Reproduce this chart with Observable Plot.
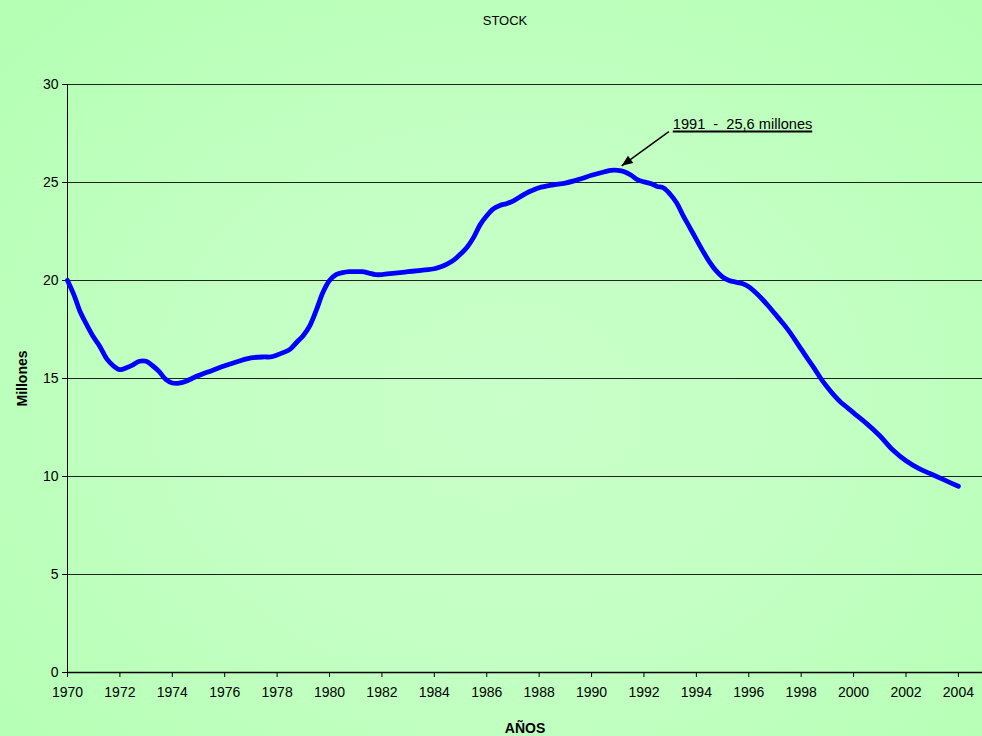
<!DOCTYPE html>
<html>
<head>
<meta charset="utf-8">
<script src="https://cdn.jsdelivr.net/npm/d3@7"></script>
<script src="https://cdn.jsdelivr.net/npm/@observablehq/plot@0.6"></script>
<style>
  html, body { margin: 0; padding: 0; }
  #chart {
    position: relative; width: 982px; height: 736px; overflow: hidden;
    background: radial-gradient(ellipse at 52% 55%, #c9ffc9 0%, #c3ffc3 45%, #b3ffb3 100%);
    font-family: "Liberation Sans", Arial, sans-serif;
  }
  #title { position: absolute; left: 0; top: 13px; width: 1010px; text-align: center; font-size: 13px; color: #000; }
  #plot { position: absolute; left: 0; top: 40px; }
  #plot svg { background: transparent; }
</style>
</head>
<body>
<div id="chart">
  <div id="title">STOCK</div>
  <div id="plot"></div>
</div>
<script>
const years = [1970.00,1970.25,1970.5,1970.75,1971.0,1971.25,1971.5,1971.75,1972.0,1972.25,1972.5,1972.75,1973.0,1973.25,1973.5,1973.75,1974.0,1974.25,1974.5,1974.75,1975.0,1975.5,1976.0,1976.5,1977.0,1977.5,1977.75,1978.0,1978.25,1978.5,1978.75,1979.0,1979.25,1979.5,1979.75,1980.0,1980.25,1980.5,1980.75,1981.0,1981.25,1981.5,1981.75,1982.0,1982.5,1983.0,1983.5,1984.0,1984.25,1984.5,1984.75,1985.0,1985.25,1985.5,1985.75,1986.0,1986.25,1986.5,1986.75,1987.0,1987.25,1987.5,1987.75,1988.0,1988.5,1989.0,1989.5,1990.0,1990.5,1990.75,1991.0,1991.25,1991.5,1991.75,1992.0,1992.25,1992.5,1992.75,1993.0,1993.25,1993.5,1993.75,1994.0,1994.25,1994.5,1994.75,1995.0,1995.25,1995.5,1995.75,1996.0,1996.25,1996.5,1996.75,1997.0,1997.25,1997.5,1997.75,1998.0,1998.25,1998.5,1998.75,1999.0,1999.25,1999.5,1999.75,2000.0,2000.5,2001.0,2001.5,2002.0,2002.5,2003.0,2003.5,2004.0];
const stock = [20.0,19.25,18.35,17.7,17.1,16.6,16.0,15.65,15.45,15.55,15.7,15.88,15.88,15.65,15.35,14.95,14.77,14.76,14.85,15.0,15.15,15.4,15.65,15.87,16.05,16.1,16.1,16.2,16.33,16.5,16.85,17.2,17.7,18.5,19.4,20.0,20.3,20.4,20.45,20.45,20.45,20.38,20.3,20.3,20.38,20.45,20.52,20.6,20.7,20.85,21.05,21.35,21.7,22.2,22.85,23.3,23.65,23.83,23.92,24.05,24.25,24.45,24.6,24.73,24.87,24.97,25.15,25.37,25.55,25.62,25.62,25.55,25.38,25.15,25.03,24.95,24.8,24.72,24.4,23.95,23.3,22.7,22.1,21.5,20.95,20.5,20.18,20.0,19.92,19.85,19.68,19.4,19.07,18.7,18.3,17.9,17.48,17.0,16.5,16.0,15.52,15.0,14.55,14.15,13.8,13.53,13.25,12.7,12.08,11.35,10.8,10.4,10.1,9.8,9.5];
const xTicks = [1970,1972,1974,1976,1978,1980,1982,1984,1986,1988,1990,1992,1994,1996,1998,2000,2002,2004];
const yTicks = [0,5,10,15,20,25,30];
const annotText = ["1991\u00a0\u00a0-\u00a0\u00a025,6 millones"];
const annotTextPos = [{x: 1993.1, y: 27.6}];
const annotUnderline = [{x1: 1993.1, x2: 1998.42, y: 27.6}];
const annotArrow = [{x1: 1992.95, y1: 27.6, x2: 1991.15, y2: 25.85}];

const data = years.map((y, i) => ({year: y, value: stock[i]}));

const triangleHead = {
  draw(context, l, r) {
    context.moveTo(0, -l);
    context.lineTo(-4.5, -l + 11);
    context.lineTo(4.5, -l + 11);
    context.closePath();
  }
};

const chart = Plot.plot({
  width: 982,
  height: 696,
  marginTop: 44,
  marginBottom: 64,
  marginLeft: 67,
  marginRight: 0,
  style: {fontFamily: '"Liberation Sans", Arial, sans-serif', fontSize: "14px", color: "#000", background: "transparent"},
  x: {domain: [1970, 2004.92], ticks: xTicks, tickFormat: "d", label: null},
  y: {domain: [0, 30], ticks: yTicks, label: null},
  marks: [
    Plot.gridY(yTicks, {stroke: "#000", strokeOpacity: 0.85, strokeWidth: 1}),
    Plot.axisY({ticks: yTicks, tickSize: 5, tickPadding: 4, fontSize: 14, label: null}),
    Plot.axisX({ticks: xTicks, tickSize: 5, tickPadding: 10, fontSize: 14, tickFormat: "d", label: null}),
    Plot.ruleX([1970], {stroke: "#000", strokeWidth: 1}),
    Plot.ruleY([0], {stroke: "#000", strokeWidth: 1.5}),
    Plot.line(data, {x: "year", y: "value", stroke: "#0000ff", strokeWidth: 4.8, curve: "catmull-rom"}),
    Plot.link(annotArrow, {x1: "x1", y1: "y1", x2: "x2", y2: "y2", stroke: "#000", strokeWidth: 1.5}),
    Plot.vector(annotArrow, {x: "x2", y: "y2", length: 11, rotate: 234, anchor: "end", shape: triangleHead, fill: "#000", stroke: "none"}),
    Plot.link(annotUnderline, {x1: "x1", x2: "x2", y1: "y", y2: "y", stroke: "#000", strokeWidth: 2}),
    Plot.text(annotText, {x: annotTextPos.map(d => d.x), y: annotTextPos.map(d => d.y), text: d => d, textAnchor: "start", lineAnchor: "bottom", dy: -3, fontSize: 14.6}),
    Plot.text(["Millones"], {frameAnchor: "left", textAnchor: "middle", dx: -45, rotate: -90, fontWeight: "bold", fontSize: 14}),
    Plot.text(["AÑOS"], {frameAnchor: "bottom", dy: 60, fontWeight: "bold", fontSize: 14})
  ]
});
document.getElementById("plot").appendChild(chart);
</script>
</body>
</html>
